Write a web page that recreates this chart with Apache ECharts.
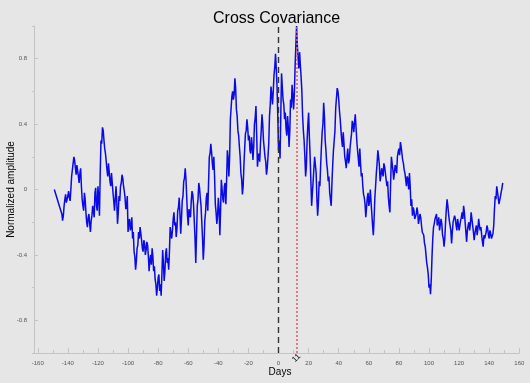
<!DOCTYPE html>
<html><head><meta charset="utf-8">
<script src="https://cdn.jsdelivr.net/npm/echarts@6/dist/echarts.min.js"></script>
<style>html,body{margin:0;padding:0;background:#e6e6e6}#c{width:530px;height:383px}</style>
</head><body><div id="c"></div>
<script>
// ---- data ----
const titleText = 'Cross Covariance';
const xName = 'Days';
const yName = 'Normalized amplitude';
const xTickLabels = [-160,-140,-120,-100,-80,-60,-40,-20,0,20,40,60,80,100,120,140,160];
const xMinorTicks = [-150,-130,-110,-90,-70,-50,-30,-10,10,30,50,70,90,110,130,150];
const yTickLabels = [-0.8,-0.4,0,0.4,0.8];
const yMinorTicks = [-1,-0.6,-0.2,0.2,0.6,1];
const zeroLag = 0;
const peakLag = 11;
const peakLagPos = 11.8;
const startPoint = [-149, 0.0];
const firstDay = -144;
// values at whole days from firstDay
const values = [
-0.15,-0.16,-0.06,-0.08,-0.04,-0.05,0.0,0.12,0.20,0.13,
0.15,0.08,0.10,0.02,-0.10,-0.02,-0.14,-0.23,-0.15,-0.26,
-0.16,-0.13,-0.02,-0.10,0.02,-0.16,0.30,0.38,0.30,0.22,
0.12,0.16,0.05,0.10,-0.02,-0.13,0.02,-0.21,-0.04,0.02,
0.09,0.02,-0.05,-0.10,-0.26,-0.18,-0.23,-0.30,-0.38,-0.49,
-0.36,-0.26,-0.23,-0.31,-0.38,-0.33,-0.37,-0.34,-0.50,-0.40,
-0.36,-0.50,-0.55,-0.65,-0.54,-0.62,-0.65,-0.37,-0.56,-0.39,
-0.45,-0.49,-0.23,-0.30,-0.18,-0.22,-0.29,-0.13,-0.05,-0.27,
-0.07,0.05,0.13,-0.05,-0.22,-0.15,-0.07,-0.03,-0.19,-0.45,
-0.10,0.04,-0.05,-0.20,-0.43,-0.19,-0.05,-0.13,0.20,0.28,
0.16,0.20,-0.09,-0.21,-0.05,-0.28,0.06,-0.06,0.02,-0.09,
0.24,0.08,0.43,0.57,0.55,0.68,0.49,0.36,0.26,0.10,
-0.03,0.15,0.34,0.43,0.30,0.24,0.32,0.18,0.40,0.51,
0.14,0.22,0.28,0.46,0.30,0.20,0.09,0.20,0.45,0.63,
0.52,0.70,0.83,0.63,0.24,0.19,0.71,0.55,0.43,0.37,
0.45,0.26,0.55,0.64,0.49,0.75,1.00,0.80,0.84,0.69,
0.45,0.30,0.08,0.30,0.47,0.20,-0.10,0.05,0.20,0.10,
-0.16,0.05,0.15,0.35,0.53,0.30,0.16,0.05,-0.02,-0.10,
0.15,0.30,0.50,0.62,0.55,0.43,0.30,0.35,0.20,0.13,
0.25,0.18,0.30,0.42,0.35,0.46,0.30,0.19,0.25,0.08,
0.02,-0.05,-0.17,-0.05,-0.10,0.00,-0.15,-0.28,-0.05,0.10,
0.24,0.15,0.08,0.12,0.16,0.10,0.02,-0.05,-0.14,0.20,
0.12,0.10,0.14,0.20,0.25,0.29,0.22,0.16,0.10,0.02,
0.06,0.10,-0.10,-0.16,-0.13,-0.17,-0.11,-0.21,-0.15,-0.22,
-0.25,-0.33,-0.40,-0.48,-0.60,-0.64,-0.41,-0.23,-0.18,-0.15,
-0.20,-0.25,-0.18,-0.28,-0.35,-0.20,-0.06,-0.15,-0.22,-0.33,
-0.20,-0.16,-0.22,-0.18,-0.25,-0.19,-0.14,-0.10,-0.20,-0.32,
-0.22,-0.25,-0.14,-0.22,-0.31,-0.24,-0.28,-0.18,-0.25,-0.28,
-0.35,-0.30,-0.26,-0.24,-0.30,-0.27,-0.31,-0.22,-0.04,0.02,
-0.05,-0.08,-0.03,0.04
];
// values at half days (firstDay + 0.5, firstDay + 1.5, ...)
const halfValues = [
-0.19,-0.10,-0.03,-0.09,-0.01,-0.07,0.08,0.16,0.18,
0.09,0.14,0.04,0.13,-0.06,-0.13,-0.06,-0.20,-0.17,-0.21,
-0.19,-0.10,-0.17,0.01,-0.13,-0.05,0.10,0.28,0.36,0.25,
0.23,0.08,0.15,0.02,0.11,-0.07,-0.06,-0.07,-0.14,-0.07,
0.04,0.07,-0.01,-0.12,-0.04,-0.20,-0.25,-0.17,-0.26,-0.41,
-0.44,-0.34,-0.30,-0.22,-0.36,-0.31,-0.40,-0.32,-0.41,-0.43,
-0.46,-0.41,-0.47,-0.58,-0.60,-0.52,-0.58,-0.52,-0.45,-0.50,
-0.36,-0.42,-0.38,-0.27,-0.25,-0.14,-0.20,-0.24,-0.11,-0.15,
-0.18,-0.04,0.07,0.06,-0.16,-0.12,-0.17,-0.01,-0.09,-0.30,
-0.28,-0.06,0.01,-0.10,-0.30,-0.34,-0.14,-0.02,0.04,0.22,
0.23,0.12,0.08,-0.14,-0.16,-0.12,-0.13,0.00,-0.08,0.04,
0.06,0.19,0.20,0.50,0.60,0.58,0.62,0.45,0.33,0.20,
0.06,0.02,0.25,0.36,0.38,0.33,0.22,0.27,0.26,0.44,
0.33,0.20,0.17,0.36,0.40,0.25,0.17,0.13,0.28,0.52,
0.58,0.60,0.75,0.74,0.45,0.30,0.45,0.63,0.52,0.47,
0.33,0.38,0.36,0.50,0.58,0.58,0.88,0.88,0.74,0.76,
0.60,0.36,0.20,0.14,0.40,0.32,0.05,-0.02,0.13,0.15,
-0.06,-0.08,0.02,0.26,0.40,0.45,0.24,0.12,0.08,-0.06,
0.04,0.24,0.36,0.56,0.60,0.48,0.36,0.26,0.28,0.17,
0.20,0.16,0.25,0.34,0.40,0.41,0.38,0.24,0.14,0.16,
0.10,-0.03,-0.09,-0.11,-0.02,-0.07,-0.08,-0.22,-0.18,0.02,
0.16,0.20,0.05,0.13,0.08,0.14,0.06,0.05,-0.10,0.04,
0.16,0.06,0.15,0.10,0.23,0.21,0.26,0.18,0.12,0.06,
0.08,0.00,0.02,-0.06,-0.11,-0.18,-0.15,-0.14,-0.18,-0.17,
-0.26,-0.28,-0.35,-0.45,-0.52,-0.58,-0.55,-0.30,-0.21,-0.19,
-0.22,-0.17,-0.24,-0.21,-0.30,-0.30,-0.12,-0.10,-0.19,-0.25,
-0.26,-0.21,-0.18,-0.25,-0.21,-0.22,-0.17,-0.18,-0.14,-0.26,
-0.25,-0.20,-0.21,-0.18,-0.26,-0.27,-0.22,-0.24,-0.22,-0.23,
-0.32,-0.28,-0.31,-0.22,-0.28,-0.25,-0.30,-0.27,-0.12,-0.06,
0.01,-0.09,-0.04,0.01
];
// ---- build ----
const seriesData = [startPoint];
values.forEach((v, i) => {
  seriesData.push([firstDay + i, v]);
  if (i < halfValues.length && i < values.length - 1) seriesData.push([firstDay + i + 0.5, halfValues[i]]);
});
const axisCol = '#c4c4c4';
const labelCol = '#555';
const chart = echarts.init(document.getElementById('c'), null, {renderer: 'canvas'});
const xBase = {
  type: 'value', min: -162.5, max: 160, gridIndex: 0, position: 'bottom',
  splitLine: {show: false}
};
const yBase = {
  type: 'value', min: -1, max: 1, gridIndex: 0, position: 'left',
  splitLine: {show: false}
};
chart.setOption({
  backgroundColor: '#e6e6e6',
  animation: false,
  title: {text: titleText, left: 213, top: 11, padding: 0,
    textStyle: {fontFamily: 'Liberation Sans, Arial', fontSize: 16, fontWeight: 'normal', color: '#000'}},
  grid: {left: 34, right: 10.7, top: 26, bottom: 30, outerBoundsMode: 'none', containLabel: false},
  xAxis: [
    Object.assign({}, xBase, {
      axisLine: {show: true, onZero: false, lineStyle: {color: axisCol, width: 1}},
      axisTick: {show: true, inside: true, length: 5, customValues: xTickLabels, lineStyle: {color: axisCol}},
      axisLabel: {show: true, customValues: xTickLabels, margin: 7, fontSize: 6,
        fontFamily: 'Liberation Sans, Arial', color: labelCol}
    }),
    Object.assign({}, xBase, {
      axisLine: {show: false, onZero: false},
      axisTick: {show: true, inside: true, length: 3, customValues: xMinorTicks, lineStyle: {color: axisCol}},
      axisLabel: {show: false}
    })
  ],
  yAxis: [
    Object.assign({}, yBase, {
      axisLine: {show: true, onZero: false, lineStyle: {color: axisCol, width: 1}},
      axisTick: {show: true, inside: true, length: 4, customValues: yTickLabels, lineStyle: {color: axisCol}},
      axisLabel: {show: true, customValues: yTickLabels, margin: 7, fontSize: 6,
        fontFamily: 'Liberation Sans, Arial', color: labelCol,
        formatter: v => (v === 0 ? '0' : String(v))}
    }),
    Object.assign({}, yBase, {
      axisLine: {show: false, onZero: false},
      axisTick: {show: true, inside: false, length: 2, customValues: yMinorTicks, lineStyle: {color: axisCol}},
      axisLabel: {show: false}
    })
  ],
  series: [{
    type: 'line', xAxisIndex: 0, yAxisIndex: 0,
    data: seriesData, showSymbol: false, symbol: 'none',
    lineStyle: {color: '#0a0ae6', width: 1.5},
    z: 3,
    markLine: {
      silent: true, symbol: 'none', animation: false,
      label: {show: false},
      data: [
        {xAxis: zeroLag, lineStyle: {color: '#333', type: [6, 4], width: 1.4}},
        {xAxis: peakLagPos, lineStyle: {color: '#e06565', type: [2, 2], width: 1.6}}
      ]
    }
  }]
});
const p = chart.convertToPixel({xAxisIndex: 0, yAxisIndex: 0}, [peakLagPos, -1]);
const pz = chart.convertToPixel({xAxisIndex: 0, yAxisIndex: 0}, [zeroLag, 0]);
chart.setOption({
  graphic: [{
    type: 'text', x: p[0], y: p[1] + 5, rotation: Math.PI / 4,
    style: {text: String(peakLag), fill: '#000', font: '8px Liberation Sans, Arial',
      textAlign: 'center', textVerticalAlign: 'middle'}
  }, {
    type: 'text', x: 11, y: pz[1], rotation: Math.PI / 2,
    style: {text: yName, fill: '#000', font: '10px Liberation Sans, Arial',
      textAlign: 'center', textVerticalAlign: 'middle'}
  }, {
    type: 'text', x: 280, y: 372,
    style: {text: xName, fill: '#000', font: '10px Liberation Sans, Arial',
      textAlign: 'center', textVerticalAlign: 'middle'}
  }]
});
</script></body></html>
